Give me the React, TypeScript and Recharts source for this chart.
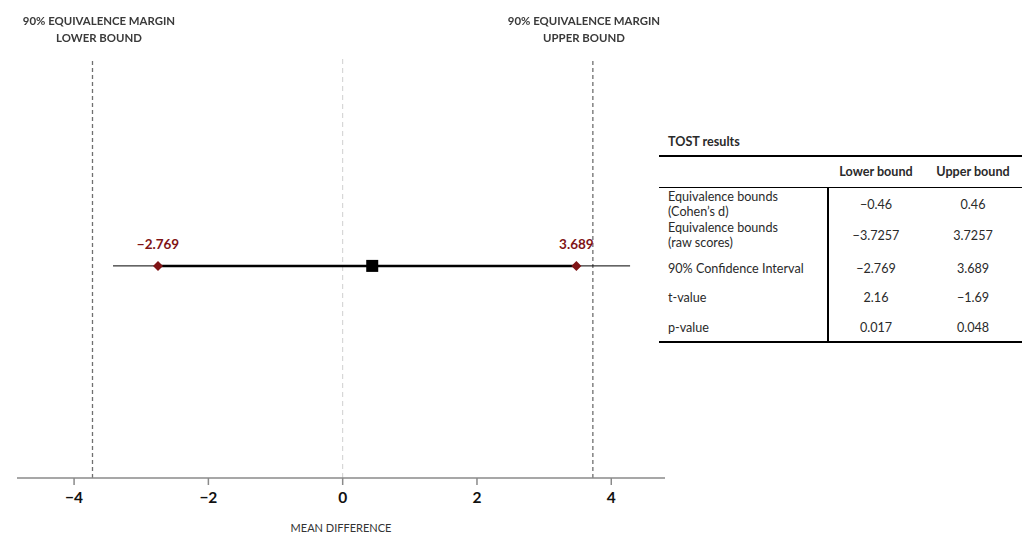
import { FC } from "react";
import {
  ComposedChart,
  XAxis,
  YAxis,
  Scatter,
  ReferenceLine,
  LabelList,
} from "recharts";

// axis
const xTicks = [-4, -2, 0, 2, 4];
const xDomain = [-4.85, 4.8];

// equivalence bounds (raw scores)
const eqLower = -3.7257;
const eqUpper = 3.7257;

// thin whisker and CI ends as drawn
const whisker = [-3.42, 4.28];
const rowY = 0.505;
const ciEnds = [
  { x: -2.75, y: rowY, label: "\u22122.769" },
  { x: 3.48, y: rowY, label: "3.689" },
];
const meanPoint = [{ x: 0.44, y: rowY }];

// table
const tableLabels = [
  ["Equivalence bounds", "(Cohen\u2019s d)"],
  ["Equivalence bounds", "(raw scores)"],
  ["90% Confidence Interval"],
  ["t-value"],
  ["p-value"],
];
const lowerVals = ["\u22120.46", "\u22123.7257", "\u22122.769", "2.16", "0.017"];
const upperVals = ["0.46", "3.7257", "3.689", "\u22121.69", "0.048"];
const rowCenters = [205, 236, 269, 298, 328];

const FONT = "Lato, 'Open Sans', sans-serif";
const RED = "#7f1416";

const Diamond = (props: any) => {
  const { cx, cy } = props;
  const r = 5;
  return (
    <polygon
      points={`${cx},${cy - r} ${cx + r},${cy} ${cx},${cy + r} ${cx - r},${cy}`}
      fill={RED}
    />
  );
};

const Square = (props: any) => {
  const { cx, cy } = props;
  return <rect x={cx - 6} y={cy - 6} width={12} height={12} fill="#000" />;
};

const TopLabel: FC<{ left: number; lines: string[] }> = ({ left, lines }) => (
  <div
    style={{
      position: "absolute",
      left: left - 100,
      top: 12,
      width: 200,
      textAlign: "center",
      fontSize: 11.4,
      fontWeight: 700,
      color: "#3a3a3a",
      lineHeight: "17px",
    }}
  >
    {lines.map((l) => (
      <div key={l}>{l}</div>
    ))}
  </div>
);

const Table: FC = () => {
  const cell = (text: string, left: number, width: number, top: number, align: "left" | "center", bold = false) => (
    <div
      key={`${text}-${left}-${top}`}
      style={{
        position: "absolute",
        left,
        top,
        width,
        textAlign: align,
        fontSize: 12.6,
        fontWeight: bold ? 700 : 400,
        color: "#2a2a2a",
        lineHeight: "15px",
        whiteSpace: "nowrap",
      }}
    >
      {text}
    </div>
  );
  return (
    <>
      {cell("TOST results", 668, 150, 134, "left", true)}
      <div style={{ position: "absolute", left: 659, top: 155, width: 363, height: 2, background: "#000" }} />
      {cell("Lower bound", 828, 96, 164, "center", true)}
      {cell("Upper bound", 924, 98, 164, "center", true)}
      <div style={{ position: "absolute", left: 659, top: 187, width: 363, height: 1, background: "#000" }} />
      <div style={{ position: "absolute", left: 827, top: 187, width: 2, height: 155, background: "#000" }} />
      {tableLabels.map((lines, i) =>
        lines.length === 2 ? (
          <div key={i}>
            {cell(lines[0], 668, 160, rowCenters[i] - 16, "left")}
            {cell(lines[1], 668, 160, rowCenters[i] - 1, "left")}
          </div>
        ) : (
          cell(lines[0], 668, 160, rowCenters[i] - 8, "left")
        )
      )}
      {lowerVals.map((v, i) => cell(v, 828, 96, rowCenters[i] - 8, "center"))}
      {upperVals.map((v, i) => cell(v, 924, 98, rowCenters[i] - 8, "center"))}
      <div style={{ position: "absolute", left: 659, top: 341, width: 363, height: 2, background: "#000" }} />
    </>
  );
};

const App: FC = () => {
  return (
    <div
      style={{
        position: "fixed",
        left: 0,
        top: 0,
        width: 1026,
        height: 534,
        background: "#fff",
        fontFamily: FONT,
      }}
    >
      <ComposedChart
        width={1026}
        height={534}
        margin={{ top: 58, right: 361, bottom: 0, left: 17 }}
        style={{ fontFamily: FONT }}
      >
        <XAxis
          type="number"
          dataKey="x"
          domain={xDomain}
          ticks={xTicks}
          allowDataOverflow
          height={56}
          axisLine={{ stroke: "#8a8a8a", strokeWidth: 1.5 }}
          tickLine={{ stroke: "#8a8a8a", strokeWidth: 1.5 }}
          tickSize={7}
          tickMargin={7}
          tick={{ fill: "#111", fontSize: 15.5, fontWeight: 700 }}
          tickFormatter={(v: number) => (v < 0 ? `\u2212${Math.abs(v)}` : `${v}`)}
          label={{
            value: "MEAN DIFFERENCE",
            position: "insideBottom",
            offset: 2,
            fill: "#333",
            fontSize: 11,
          }}
        />
        <YAxis
          type="number"
          dataKey="y"
          domain={[0, 1]}
          width={0}
          tick={false}
          tickLine={false}
          axisLine={{ stroke: "#8a8a8a", strokeWidth: 1.5 }}
        />
        <ReferenceLine x={0} stroke="#cfcfcf" strokeDasharray="5 4" strokeWidth={1} />
        <ReferenceLine x={eqLower} stroke="#6f6f6f" strokeDasharray="4 3" strokeWidth={1.3} />
        <ReferenceLine x={eqUpper} stroke="#6f6f6f" strokeDasharray="4 3" strokeWidth={1.3} />
        <ReferenceLine
          segment={[
            { x: whisker[0], y: rowY },
            { x: whisker[1], y: rowY },
          ]}
          stroke="#000"
          strokeWidth={1}
        />
        <ReferenceLine
          segment={[
            { x: ciEnds[0].x, y: rowY },
            { x: ciEnds[1].x, y: rowY },
          ]}
          stroke="#000"
          strokeWidth={2.5}
        />
        <Scatter data={ciEnds} shape={<Diamond />} isAnimationActive={false}>
          <LabelList
            dataKey="label"
            position="top"
            offset={12}
            fill={RED}
            fontSize={13.5}
            fontWeight={700}
          />
        </Scatter>
        <Scatter data={meanPoint} shape={<Square />} isAnimationActive={false} />
      </ComposedChart>
      <TopLabel left={99} lines={["90% EQUIVALENCE MARGIN", "LOWER BOUND"]} />
      <TopLabel left={584} lines={["90% EQUIVALENCE MARGIN", "UPPER BOUND"]} />
      <Table />
    </div>
  );
};

export default App;
